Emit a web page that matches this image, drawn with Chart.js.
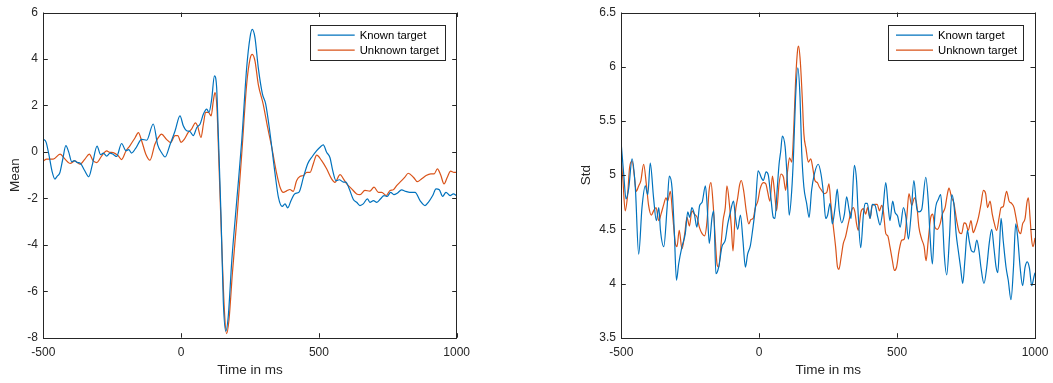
<!DOCTYPE html>
<html>
<head>
<meta charset="utf-8">
<script src="https://cdn.jsdelivr.net/npm/chart.js@4.4.1/dist/chart.umd.min.js"></script>
<style>
  body { margin: 0; background: #fff; }
  #wrap { position: relative; width: 1053px; height: 383px; }
  canvas { position: absolute; top: 0; }
  #meanChart { left: 0; }
  #stdChart { left: 526px; }
</style>
</head>
<body>
<div id="wrap">
  <canvas id="meanChart" width="526" height="383"></canvas>
  <canvas id="stdChart" width="527" height="383"></canvas>
</div>
<script>
// time axis in ms, shared by both panels
const timeMin = -500, timeMax = 1000, timeStep = 500;
const seriesNames = ['Known target', 'Unknown target'];
const seriesColors = ['#0072BD', '#D95319'];

// mean amplitude
const knownMeanT = [-500,-490,-480,-468,-458,-450,-440,-430,-418,-408,-397,-388,-378,-365,-350,-335,-322,-305,-292,-282,-270,-258,-245,-234,-216,-200,-190,-180,-165,-143,-125,-101,-85,-70,-58,-40,-22,-4,8,20,32,44,57,69,81,93,101,111,121,129,135,145,153,162,171,184,202,220,238,250,258,268,280,295,307,323,341,353,367,377,387,399,413,428,444,459,476,492,504,516,528,540,550,562,574,589,598,610,625,637,649,661,676,685,698,710,724,736,748,760,772,784,800,815,830,849,867,885,897,913,925,937,949,961,976,988,1000];
const knownMeanV = [0.55,0.42,-0.1,-0.85,-1.17,-1.05,-0.9,-0.35,0.27,0.0,-0.42,-0.38,-0.45,-0.5,-0.8,-1.07,-0.55,0.25,-0.12,-0.05,-0.18,-0.05,-0.12,-0.2,0.36,0.05,0.1,-0.05,0.15,0.54,0.5,1.2,0.3,-0.05,-0.22,0.32,0.9,1.55,1.12,0.91,0.88,0.7,1.05,1.2,1.63,1.84,1.7,2.27,3.27,2.77,0.76,-2.8,-6.4,-7.72,-7.1,-4.67,-2.09,0.48,3.63,4.92,5.27,4.92,3.63,2.5,2.06,0.77,-0.95,-1.95,-2.35,-2.24,-2.41,-2.09,-1.8,-1.73,-1.09,-0.52,-0.2,0.05,0.2,0.3,-0.02,-0.24,-0.8,-1.24,-1.2,-1.3,-1.3,-1.59,-2.05,-2.17,-2.31,-2.24,-2.02,-2.17,-2.1,-2.17,-2.02,-1.88,-1.92,-1.74,-1.84,-1.78,-1.64,-1.7,-1.74,-1.74,-2.1,-2.31,-2.17,-1.88,-1.59,-1.63,-1.92,-1.74,-1.88,-1.81,-1.88];
const unknownMeanT = [-500,-488,-464,-439,-421,-403,-385,-367,-349,-333,-319,-306,-288,-270,-258,-246,-228,-216,-200,-186,-167,-155,-143,-128,-113,-95,-83,-71,-53,-38,-22,-12,0,12,26,38,52,60,72,81,89,99,109,117,123,130,137,147,157,165,174,186,204,220,238,250,258,268,280,298,314,329,347,359,371,383,395,407,419,431,444,456,468,480,492,510,528,546,558,577,589,601,619,637,649,667,685,700,716,728,744,758,770,782,800,812,824,843,857,873,889,906,918,930,942,954,966,978,990,1000];
const unknownMeanV = [-0.39,-0.31,-0.31,-0.1,-0.31,-0.5,-0.39,-0.53,-0.31,-0.1,-0.39,-0.46,-0.17,0.04,-0.02,-0.03,-0.17,-0.33,0.04,0.26,0.61,0.83,0.47,-0.1,-0.36,0.33,0.61,0.76,0.54,0.4,0.7,0.7,0.41,0.55,0.84,0.98,1.25,1.1,0.62,1.2,1.7,1.7,1.55,2.2,2.55,1.9,-0.4,-3.8,-6.8,-7.83,-7.2,-5.24,-2.66,-0.09,2.92,3.99,4.2,3.92,2.91,2.05,1.05,0.19,-0.95,-1.52,-1.74,-1.68,-1.62,-1.7,-1.24,-1.06,-1.02,-0.88,-0.88,-0.5,-0.14,-0.38,-0.73,-1.16,-1.31,-0.98,-1.16,-1.38,-1.59,-1.81,-1.84,-1.66,-1.69,-1.52,-1.74,-1.74,-1.88,-1.66,-1.63,-1.45,-1.24,-1.09,-0.92,-1.09,-1.28,-1.16,-1.02,-0.95,-0.95,-0.73,-1.0,-1.38,-1.09,-0.83,-0.88,-0.88];

// standard deviation
const knownStdT = [-500,-491,-483,-473,-461,-449,-437,-425,-413,-404,-395,-383,-373,-364,-358,-346,-334,-326,-316,-308,-300,-292,-280,-268,-259,-252,-244,-235,-226,-216,-207,-195,-189,-181,-171,-165,-157,-147,-135,-123,-114,-107,-93,-87,-78,-68,-59,-50,-42,-32,-24,-14,-4,9,15,25,33,42,51,57,65,72,78,84,94,102,109,118,124,132,140,148,154,162,172,181,190,200,214,224,233,241,248,257,265,275,283,290,299,309,317,326,333,345,353,359,368,378,384,392,402,410,420,430,438,448,459,468,474,484,492,502,511,523,532,541,550,561,571,579,589,604,613,619,628,637,650,658,665,671,680,690,698,706,714,722,730,738,746,755,761,770,779,789,797,804,815,825,834,843,851,859,865,871,877,885,895,903,913,922,930,937,946,955,964,972,980,988,996,1000];
const knownStdV = [5.28,5.0,4.78,4.88,5.15,4.88,4.27,4.7,4.9,4.82,5.11,4.79,4.58,4.7,4.49,4.34,4.7,4.99,4.88,4.49,4.03,4.18,4.34,4.46,4.66,4.61,4.7,4.64,4.52,4.72,4.75,4.9,4.73,4.37,4.61,4.67,4.09,4.15,4.34,4.4,4.55,4.63,4.76,4.63,4.5,4.63,4.4,4.15,4.27,4.35,4.49,4.7,5.04,4.97,4.95,5.03,5.0,4.8,4.61,4.6,4.86,5.1,5.22,5.36,5.26,4.95,4.63,4.86,5.16,5.72,5.99,5.72,5.22,4.89,4.74,4.61,4.86,5.01,5.1,5.01,4.83,4.6,4.63,4.74,4.55,4.7,4.87,4.68,4.56,4.64,4.8,4.68,4.6,5.09,4.95,4.64,4.33,4.64,4.74,4.74,4.6,4.73,4.72,4.61,4.54,4.67,4.93,4.7,4.58,4.76,4.66,4.62,4.52,4.7,4.61,4.41,4.61,4.95,4.7,4.66,4.68,4.98,4.76,4.46,4.18,4.64,4.78,4.82,4.58,4.27,4.08,4.43,4.82,4.73,4.46,4.3,4.15,4.0,4.22,4.49,4.4,4.3,4.29,4.4,4.3,4.15,4.0,4.15,4.37,4.5,4.33,4.15,4.1,4.33,4.6,4.39,4.15,4.03,3.85,4.15,4.55,4.43,4.15,3.98,4.15,4.2,4.14,3.98,4.06,4.1];
const unknownStdT = [-500,-494,-486,-477,-470,-461,-453,-446,-437,-429,-419,-409,-401,-391,-383,-374,-364,-356,-346,-338,-332,-322,-314,-304,-298,-290,-280,-270,-262,-253,-244,-235,-225,-217,-207,-198,-189,-182,-175,-167,-159,-153,-147,-138,-131,-123,-117,-108,-101,-95,-87,-78,-71,-65,-56,-47,-38,-30,-22,-14,-5,3,15,24,31,39,48,55,63,72,79,88,96,103,110,118,125,132,140,143,149,156,162,170,178,187,194,202,211,218,226,236,245,253,260,269,277,284,289,297,305,313,323,333,341,347,353,359,369,378,386,393,402,410,420,428,436,444,450,459,466,474,483,490,498,507,517,526,535,543,553,563,571,579,589,598,605,613,622,629,637,646,656,664,674,682,688,698,706,716,726,734,743,750,758,768,776,786,795,804,813,821,828,837,845,853,861,870,877,885,891,897,906,915,924,931,940,948,955,964,971,976,982,988,993,1000];
const unknownStdV = [5.14,4.95,4.67,4.82,5.07,5.13,5.0,4.85,4.9,4.95,5.1,4.91,4.72,4.63,4.67,4.7,4.58,4.64,4.73,4.79,4.76,4.85,4.64,4.37,4.34,4.49,4.32,4.46,4.61,4.53,4.67,4.64,4.61,4.52,4.46,4.44,4.58,4.85,4.93,4.73,4.4,4.18,4.15,4.37,4.58,4.7,4.9,4.73,4.52,4.3,4.64,4.79,4.91,4.95,4.85,4.67,4.55,4.59,4.6,4.7,4.76,4.87,4.93,4.92,4.84,4.76,4.99,4.86,4.67,4.92,5.01,4.98,4.86,5.04,5.16,5.12,5.41,5.87,6.17,6.19,6.05,5.72,5.38,5.24,5.12,5.15,5.07,4.95,4.93,4.89,4.86,4.83,4.84,4.92,4.73,4.52,4.34,4.15,4.13,4.24,4.37,4.43,4.55,4.66,4.7,4.66,4.55,4.49,4.66,4.69,4.64,4.7,4.6,4.72,4.73,4.73,4.67,4.72,4.67,4.46,4.44,4.34,4.21,4.12,4.15,4.3,4.4,4.41,4.61,4.83,4.72,4.79,4.73,4.52,4.41,4.34,4.21,4.4,4.61,4.64,4.52,4.5,4.55,4.64,4.7,4.82,4.88,4.79,4.74,4.58,4.47,4.46,4.56,4.55,4.49,4.58,4.47,4.53,4.61,4.73,4.86,4.83,4.7,4.76,4.64,4.55,4.49,4.61,4.7,4.71,4.79,4.85,4.76,4.74,4.7,4.61,4.49,4.46,4.55,4.6,4.75,4.79,4.61,4.4,4.34,4.42];

const fontFamily = '"Liberation Sans", Arial, Helvetica, sans-serif';
const axisColor = '#262626';

function toPoints(ts, vs) {
    return ts.map((t, i) => ({ x: t, y: vs[i] }));
}

// plain tick text: no thousands separator, no trailing ".0"
const plainTick = v => String(Math.round(v * 100) / 100);

// box around the axes with inward tick marks on all four sides
const axesBox = {
    id: 'axesBox',
    afterDatasetsDraw(chart) {
        const { ctx, chartArea: a, scales } = chart;
        const len = 4.5;
        ctx.save();
        ctx.strokeStyle = axisColor;
        ctx.lineWidth = 1;
        ctx.beginPath();
        scales.x.ticks.forEach(t => {
            const px = Math.round(scales.x.getPixelForValue(t.value)) + 0.5;
            ctx.moveTo(px, a.bottom); ctx.lineTo(px, a.bottom - len);
            ctx.moveTo(px, a.top); ctx.lineTo(px, a.top + len);
        });
        scales.y.ticks.forEach(t => {
            const py = Math.round(scales.y.getPixelForValue(t.value)) + 0.5;
            ctx.moveTo(a.left, py); ctx.lineTo(a.left + len, py);
            ctx.moveTo(a.right, py); ctx.lineTo(a.right - len, py);
        });
        ctx.stroke();
        ctx.strokeRect(Math.round(a.left) + 0.5, Math.round(a.top) + 0.5,
            Math.round(a.right - a.left), Math.round(a.bottom - a.top));
        ctx.restore();
    }
};

// legend box in the upper right corner of the axes
const boxLegend = {
    id: 'boxLegend',
    afterDraw(chart) {
        const { ctx, chartArea: a } = chart;
        const w = 134.5, h = 35;
        const x0 = a.right - 12.5 - w, y0 = a.top + 12.7;
        ctx.save();
        ctx.fillStyle = '#fff';
        ctx.fillRect(x0, y0, w, h);
        ctx.strokeStyle = axisColor;
        ctx.lineWidth = 1;
        ctx.strokeRect(Math.round(x0) + 0.5, Math.round(y0) + 0.5, Math.round(w), Math.round(h));
        ctx.font = '11.3px ' + fontFamily;
        ctx.textBaseline = 'middle';
        chart.data.datasets.forEach((ds, i) => {
            const y = y0 + 10 + i * 15;
            ctx.strokeStyle = ds.borderColor;
            ctx.lineWidth = 1.2;
            ctx.beginPath();
            ctx.moveTo(x0 + 8, y); ctx.lineTo(x0 + 45, y);
            ctx.stroke();
            ctx.fillStyle = '#000';
            ctx.fillText(ds.label, x0 + 50, y + 0.5);
        });
        ctx.restore();
    }
};

function makeChart(id, sets, yMin, yMax, yStep, yTitle, pad, titlePad) {
    const ctx = document.getElementById(id).getContext('2d');
    return new Chart(ctx, {
        type: 'line',
        data: {
            datasets: sets.map((s, i) => ({
                label: seriesNames[i],
                data: toPoints(s[0], s[1]),
                borderColor: seriesColors[i],
                borderWidth: 1.2,
                pointRadius: 0,
                fill: false,
                cubicInterpolationMode: 'monotone'
            }))
        },
        options: {
            responsive: false,
            animation: false,
            events: [],
            layout: { padding: pad },
            plugins: { legend: { display: false }, tooltip: { enabled: false } },
            scales: {
                x: {
                    type: 'linear',
                    min: timeMin, max: timeMax,
                    grid: { display: false, drawTicks: false },
                    border: { display: false },
                    ticks: {
                        stepSize: timeStep, autoSkip: false, maxRotation: 0,
                        padding: 8, color: axisColor,
                        font: { family: fontFamily, size: 12 },
                        callback: plainTick
                    },
                    title: {
                        display: true, text: 'Time in ms', color: axisColor,
                        font: { family: fontFamily, size: 13.5 },
                        padding: { top: 0, bottom: 5 }
                    },
                    afterFit(scale) {
                        // fixed axis height; end labels may hang past the plot edges
                        scale.height = 45.3;
                        scale.paddingLeft = 0;
                        scale.paddingRight = 0;
                    }
                },
                y: {
                    min: yMin, max: yMax,
                    grid: { display: false, drawTicks: false },
                    border: { display: false },
                    ticks: {
                        stepSize: yStep, autoSkip: false, padding: 5.3, color: axisColor,
                        font: { family: fontFamily, size: 12 },
                        callback: plainTick
                    },
                    title: {
                        display: true, text: yTitle, color: axisColor,
                        font: { family: fontFamily, size: 13.5 },
                        padding: { top: titlePad, bottom: 0 }
                    },
                    afterFit(scale) { scale.width = 43.3; }
                }
            }
        },
        plugins: [axesBox, boxLegend]
    });
}

makeChart('meanChart',
    [[knownMeanT, knownMeanV], [unknownMeanT, unknownMeanV]],
    -8, 6, 2, 'Mean',
    { left: 0, right: 69.3, top: 11.3, bottom: 0 }, 7);

makeChart('stdChart',
    [[knownStdT, knownStdV], [unknownStdT, unknownStdV]],
    3.5, 6.5, 0.5, 'Std',
    { left: 52, right: 18, top: 11.3, bottom: 0 }, 0.6);
</script>
</body>
</html>
